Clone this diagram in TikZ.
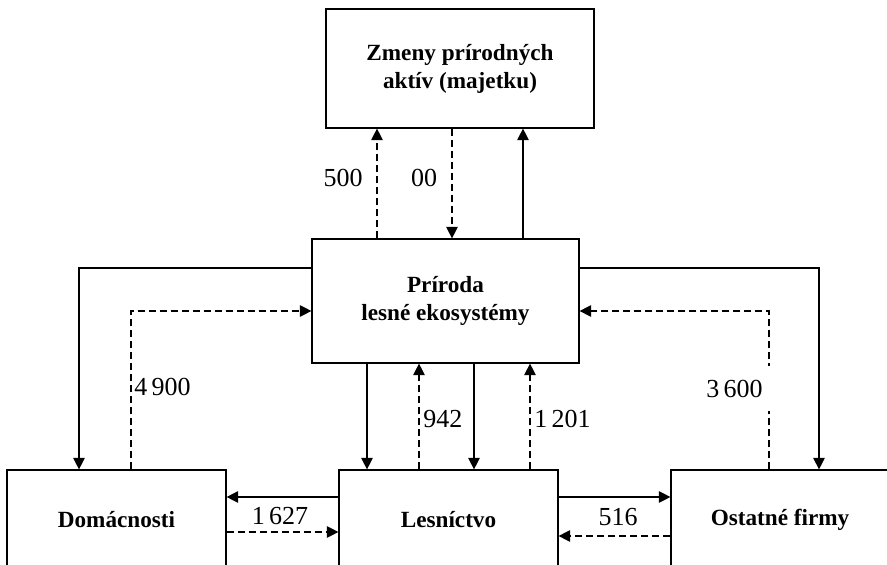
\documentclass[tikz,border=0pt]{standalone}
\usepackage{fontspec}
\setmainfont{Liberation Serif}
\usetikzlibrary{arrows.meta}

\begin{document}
\begin{tikzpicture}[x=0.5pt,y=-0.5pt,
    box/.style={draw, line width=0.6pt, align=center, inner sep=0pt,
        font=\fontsize{11.6}{14}\selectfont\bfseries},
    flow/.style={line width=0.6pt, -{Triangle[length=5.8pt,width=5.8pt]}},
    dflow/.style={flow, dash pattern=on 3.5pt off 2pt},
    num/.style={font=\fontsize{13}{15}\selectfont, inner sep=1pt}]
\useasboundingbox (0,0) rectangle (887,565);

\node[box, minimum width=134pt, minimum height=59.5pt] (zmeny) at (460,68.5) {Zmeny prírodných\\aktív (majetku)};
\node[box, minimum width=133.5pt, minimum height=62pt] (prir) at (445.5,301) {Príroda\\lesné ekosystémy};
\node[box, minimum width=109.5pt, minimum height=50pt] (dom) at (116.5,520) {Domácnosti};
\node[box, minimum width=109.5pt, minimum height=50pt] (lesn) at (448.5,520) {Lesníctvo};
\node[box, minimum width=109pt, minimum height=50pt] (ost) at (780,520) {Ostatné firmy};

\draw[dflow] (377,0 |- prir.north) -- (377,0 |- zmeny.south);
\draw[dflow] (452,0 |- zmeny.south) -- (452,0 |- prir.north);
\draw[flow] (523,0 |- prir.north) -- (523,0 |- zmeny.south);
\node[num] (l500) at (343,178) {500};
\node[num] (l00) at (424,178) {00};

\draw[flow] (prir.west |- 0,268) -| (79,0 |- dom.north);
\draw[dflow] (131,0 |- dom.north) |- (prir.west |- 0,311);
\node[num, anchor=west] (l4900) at (132,387) {4\,900};

\draw[flow] (prir.east |- 0,268) -| (819,0 |- ost.north);
\draw[dflow] (769,0 |- ost.north) |- (prir.east |- 0,311);
\node[num, anchor=east, fill=white, inner xsep=4.5pt, minimum height=22.5pt] (l3600) at (772,389) {3\,600};

\draw[flow] (367,0 |- prir.south) -- (367,0 |- lesn.north);
\draw[dflow] (419,0 |- lesn.north) -- (419,0 |- prir.south);
\draw[flow] (474,0 |- prir.south) -- (474,0 |- lesn.north);
\draw[dflow] (530,0 |- lesn.north) -- (530,0 |- prir.south);
\node[num, anchor=west] (l942) at (421,419) {942};
\node[num, anchor=west] (l1201) at (532,419) {1\,201};

\draw[flow] (lesn.west |- 0,497) -- (dom.east |- 0,497);
\draw[dflow] (dom.east |- 0,532) -- (lesn.west |- 0,532);
\node[num] (l1627) at (280,516) {1\,627};

\draw[flow] (lesn.east |- 0,497) -- (ost.west |- 0,497);
\draw[dflow] (ost.west |- 0,536) -- (lesn.east |- 0,536);
\node[num] (l516) at (618,517) {516};
\end{tikzpicture}
\end{document}
